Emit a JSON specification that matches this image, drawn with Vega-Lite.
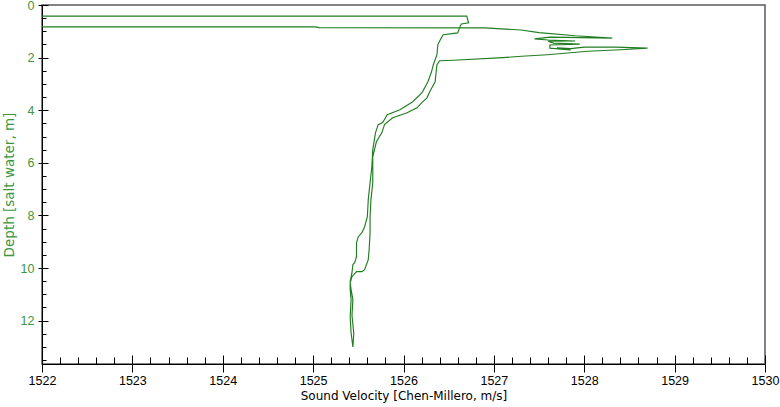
{
  "$schema": "https://vega.github.io/schema/vega-lite/v6.json",
  "width": 723,
  "height": 359,
  "autosize": {"type": "none"},
  "padding": {"left": 42, "top": 5, "right": 15, "bottom": 43},
  "config": {
    "view": {"stroke": "#5a5a5a", "strokeWidth": 1.5},
    "font": "Liberation Sans"
  },
  "data": {
    "values": [
      {"i": 0, "v": 1510, "d": 0.44},
      {"i": 1, "v": 1526.70, "d": 0.42},
      {"i": 2, "v": 1526.72, "d": 0.68},
      {"i": 3, "v": 1526.64, "d": 0.72},
      {"i": 4, "v": 1526.62, "d": 0.87},
      {"i": 5, "v": 1526.60, "d": 1.06},
      {"i": 6, "v": 1526.44, "d": 1.13},
      {"i": 7, "v": 1526.42, "d": 1.24},
      {"i": 8, "v": 1526.38, "d": 1.51},
      {"i": 9, "v": 1526.37, "d": 1.89},
      {"i": 10, "v": 1526.33, "d": 2.27},
      {"i": 11, "v": 1526.31, "d": 2.54},
      {"i": 12, "v": 1526.27, "d": 2.92},
      {"i": 13, "v": 1526.21, "d": 3.30},
      {"i": 14, "v": 1526.16, "d": 3.49},
      {"i": 15, "v": 1526.09, "d": 3.71},
      {"i": 16, "v": 1525.96, "d": 3.98},
      {"i": 17, "v": 1525.82, "d": 4.17},
      {"i": 18, "v": 1525.77, "d": 4.47},
      {"i": 19, "v": 1525.72, "d": 4.55},
      {"i": 20, "v": 1525.69, "d": 4.86},
      {"i": 21, "v": 1525.66, "d": 5.50},
      {"i": 22, "v": 1525.65, "d": 6.15},
      {"i": 23, "v": 1525.63, "d": 6.76},
      {"i": 24, "v": 1525.61, "d": 7.40},
      {"i": 25, "v": 1525.60, "d": 8.05},
      {"i": 26, "v": 1525.57, "d": 8.43},
      {"i": 27, "v": 1525.54, "d": 8.66},
      {"i": 28, "v": 1525.50, "d": 8.81},
      {"i": 29, "v": 1525.48, "d": 9.04},
      {"i": 30, "v": 1525.48, "d": 9.57},
      {"i": 31, "v": 1525.46, "d": 9.80},
      {"i": 32, "v": 1525.44, "d": 9.87},
      {"i": 33, "v": 1525.43, "d": 10.18},
      {"i": 34, "v": 1525.41, "d": 10.52},
      {"i": 35, "v": 1525.41, "d": 10.82},
      {"i": 36, "v": 1525.42, "d": 11.2},
      {"i": 37, "v": 1525.41, "d": 11.85},
      {"i": 38, "v": 1525.42, "d": 12.46},
      {"i": 39, "v": 1525.44, "d": 13.0},
      {"i": 40, "v": 1525.45, "d": 12.5},
      {"i": 41, "v": 1525.43, "d": 11.8},
      {"i": 42, "v": 1525.44, "d": 11.2},
      {"i": 43, "v": 1525.42, "d": 10.82},
      {"i": 44, "v": 1525.41, "d": 10.56},
      {"i": 45, "v": 1525.43, "d": 10.33},
      {"i": 46, "v": 1525.48, "d": 10.14},
      {"i": 47, "v": 1525.54, "d": 10.14},
      {"i": 48, "v": 1525.57, "d": 10.06},
      {"i": 49, "v": 1525.61, "d": 9.68},
      {"i": 50, "v": 1525.62, "d": 9.30},
      {"i": 51, "v": 1525.63, "d": 8.66},
      {"i": 52, "v": 1525.63, "d": 8.05},
      {"i": 53, "v": 1525.64, "d": 7.40},
      {"i": 54, "v": 1525.66, "d": 6.76},
      {"i": 55, "v": 1525.66, "d": 5.77},
      {"i": 56, "v": 1525.70, "d": 5.2},
      {"i": 57, "v": 1525.76, "d": 4.86},
      {"i": 58, "v": 1525.79, "d": 4.55},
      {"i": 59, "v": 1525.88, "d": 4.29},
      {"i": 60, "v": 1526.04, "d": 4.10},
      {"i": 61, "v": 1526.15, "d": 3.91},
      {"i": 62, "v": 1526.20, "d": 3.72},
      {"i": 63, "v": 1526.26, "d": 3.53},
      {"i": 64, "v": 1526.29, "d": 3.30},
      {"i": 65, "v": 1526.35, "d": 2.92},
      {"i": 66, "v": 1526.37, "d": 2.27},
      {"i": 67, "v": 1526.40, "d": 2.12},
      {"i": 68, "v": 1526.55, "d": 2.10},
      {"i": 69, "v": 1527.10, "d": 2.00},
      {"i": 70, "v": 1527.31, "d": 1.95},
      {"i": 71, "v": 1527.59, "d": 1.89},
      {"i": 72, "v": 1528.04, "d": 1.76},
      {"i": 73, "v": 1528.40, "d": 1.70},
      {"i": 74, "v": 1528.70, "d": 1.64},
      {"i": 75, "v": 1528.35, "d": 1.60},
      {"i": 76, "v": 1528.00, "d": 1.60},
      {"i": 77, "v": 1527.85, "d": 1.66},
      {"i": 78, "v": 1527.70, "d": 1.63},
      {"i": 79, "v": 1527.85, "d": 1.71},
      {"i": 80, "v": 1527.62, "d": 1.64},
      {"i": 81, "v": 1527.62, "d": 1.52},
      {"i": 82, "v": 1527.95, "d": 1.49},
      {"i": 83, "v": 1527.66, "d": 1.45},
      {"i": 84, "v": 1527.60, "d": 1.38},
      {"i": 85, "v": 1527.90, "d": 1.37},
      {"i": 86, "v": 1527.60, "d": 1.33},
      {"i": 87, "v": 1527.45, "d": 1.29},
      {"i": 88, "v": 1527.62, "d": 1.22},
      {"i": 89, "v": 1528.31, "d": 1.26},
      {"i": 90, "v": 1527.90, "d": 1.17},
      {"i": 91, "v": 1527.50, "d": 1.05},
      {"i": 92, "v": 1527.30, "d": 0.95},
      {"i": 93, "v": 1526.90, "d": 0.87},
      {"i": 94, "v": 1525.07, "d": 0.86},
      {"i": 95, "v": 1525.02, "d": 0.83},
      {"i": 96, "v": 1510, "d": 0.83}
    ]
  },
  "layer": [
    {
      "mark": {"type": "line", "clip": true, "color": "#207d20", "strokeWidth": 1.15},
      "encoding": {
        "x": {
          "field": "v", "type": "quantitative",
          "scale": {"domain": [1522, 1530], "nice": false, "zero": false},
          "axis": {
            "orient": "bottom",
            "title": "Sound Velocity [Chen-Millero, m/s]",
            "values": [1522, 1523, 1524, 1525, 1526, 1527, 1528, 1529, 1530],
            "format": "d",
            "grid": false,
            "domainColor": "#000", "domainWidth": 1,
            "tickColor": "#000", "tickSize": 8, "tickWidth": 1,
            "labelColor": "#000", "labelFont": "Liberation Sans", "labelFontSize": 12.5,
            "labelPadding": 2, "labelFlush": false, "labelOverlap": false,
            "titleColor": "#000", "titleFont": "DejaVu Sans", "titleFontSize": 12,
            "titleFontWeight": "normal", "titlePadding": 4
          }
        },
        "y": {
          "field": "d", "type": "quantitative",
          "scale": {"domain": [0, 13.65], "reverse": true, "nice": false, "zero": false},
          "axis": {
            "orient": "left",
            "title": "Depth [salt water, m]",
            "values": [0, 2, 4, 6, 8, 10, 12],
            "grid": false,
            "domainColor": "#000", "domainWidth": 1,
            "tickColor": "#000", "tickSize": 4, "tickWidth": 1,
            "labelColor": "#3c963c", "labelFont": "Liberation Sans", "labelFontSize": 12.5,
            "labelPadding": 4, "labelFlush": false, "labelOverlap": false,
            "titleColor": "#3c963c", "titleFont": "DejaVu Sans", "titleFontSize": 13.5,
            "titleFontWeight": "normal", "titlePadding": 4
          }
        },
        "order": {"field": "i", "type": "quantitative"}
      }
    },
    {
      "mark": {"type": "line", "opacity": 0},
      "encoding": {
        "x": {
          "field": "v", "type": "quantitative",
          "axis": {
            "orient": "bottom", "title": null, "labels": false, "domain": false, "grid": false,
            "values": [1522.2,1522.4,1522.6,1522.8,1523.2,1523.4,1523.6,1523.8,1524.2,1524.4,1524.6,1524.8,1525.2,1525.4,1525.6,1525.8,1526.2,1526.4,1526.6,1526.8,1527.2,1527.4,1527.6,1527.8,1528.2,1528.4,1528.6,1528.8,1529.2,1529.4,1529.6,1529.8],
            "tickColor": "#000", "tickSize": -7, "tickWidth": 1
          }
        },
        "y": {
          "field": "d", "type": "quantitative",
          "axis": {
            "orient": "left", "title": null, "labels": false, "domain": false, "grid": false,
            "values": [0.5,1,1.5,2.5,3,3.5,4.5,5,5.5,6.5,7,7.5,8.5,9,9.5,10.5,11,11.5,12.5,13,13.5],
            "tickColor": "#000", "tickSize": -4, "tickWidth": 1
          }
        },
        "order": {"field": "i", "type": "quantitative"}
      }
    },
    {
      "mark": {"type": "line", "opacity": 0},
      "encoding": {
        "x": {
          "field": "v", "type": "quantitative",
          "axis": {
            "orient": "bottom", "title": null, "labels": false, "domain": false, "grid": false,
            "values": [1522, 1523, 1524, 1525, 1526, 1527, 1528, 1529, 1530],
            "tickColor": "#000", "tickSize": -9, "tickWidth": 1
          }
        },
        "y": {
          "field": "d", "type": "quantitative",
          "axis": {
            "orient": "left", "title": null, "labels": false, "domain": false, "grid": false,
            "values": [0, 2, 4, 6, 8, 10, 12],
            "tickColor": "#000", "tickSize": -6, "tickWidth": 1
          }
        },
        "order": {"field": "i", "type": "quantitative"}
      }
    }
  ],
  "resolve": {"axis": {"x": "independent", "y": "independent"}}
}
